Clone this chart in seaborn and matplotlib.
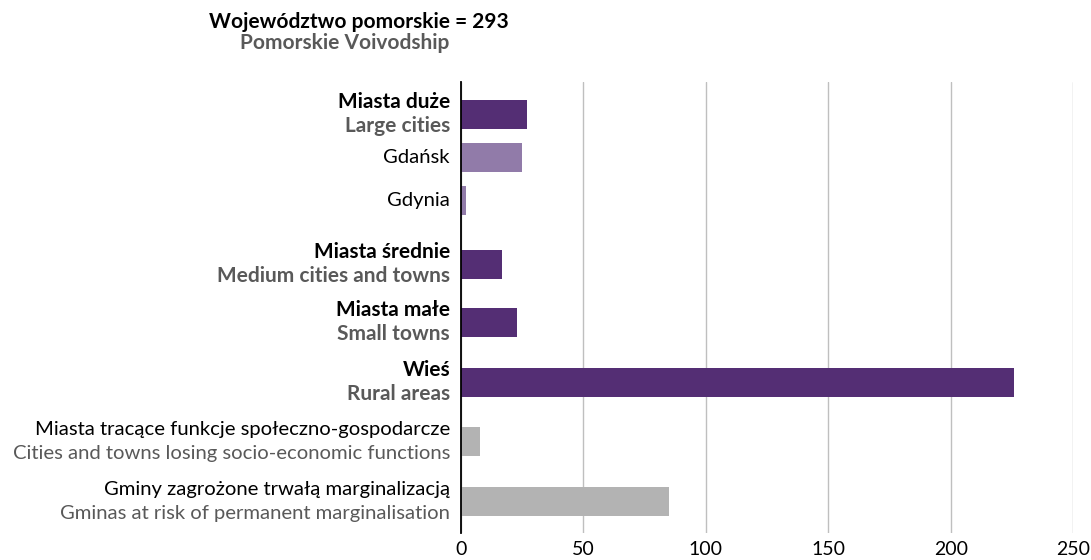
import matplotlib
matplotlib.use("Agg")
import matplotlib.pyplot as plt
import matplotlib.transforms as mtransforms
import pandas as pd
import seaborn as sns

# Data
values = [27, 25, 2, 17, 23, 226, 8, 85]
labels_pl = ["Miasta duże", "Gdańsk", "Gdynia", "Miasta średnie", "Miasta małe", "Wieś",
             "Miasta tracące funkcje społeczno-gospodarcze",
             "Gminy zagrożone trwałą marginalizacją"]
labels_en = ["Large cities", None, None, "Medium cities and towns", "Small towns", "Rural areas",
             "Cities and towns losing socio-economic functions",
             "Gminas at risk of permanent marginalisation"]
kinds = ["main", "sub", "sub", "main", "main", "main", "special", "special"]
total_pl = "Województwo pomorskie"
total_en = "Pomorskie Voivodship"
total_value = 293
x_ticks = [0, 50, 100, 150, 200, 250]

# Layout (pixel rows of the bar centres in the 1091x560 figure)
W, H = 1091, 560
slots = [114.5, 157.5, 200.5, 264.5, 322.5, 382.5, 441, 501]
colors = {"main": "#55237f", "sub": "#9174b0", "special": "#b3b3b3"}
GRAY = "#595959"
FONT = "Lato"

sns.set_theme(style="white")
plt.rcParams["font.family"] = [FONT, "DejaVu Sans"]

df = pd.DataFrame({"value": values, "slot": slots, "kind": kinds,
                   "name": labels_pl})

fig = plt.figure(figsize=(W / 100, H / 100), dpi=100)
ax = fig.add_axes([460.7 / W, 1 - 533 / H, (1073.3 - 460.7) / W, (533 - 82) / H])

sns.barplot(data=df, x="value", y="slot", hue="name", orient="h", native_scale=True,
            palette=[colors[k] for k in kinds], width=29 / 43, legend=False,
            linewidth=0, ax=ax)

ax.set_xlim(0, 250)
ax.set_ylim(533, 82)
ax.set_xticks(x_ticks)
ax.set_xticklabels([str(t) for t in x_ticks], fontsize=14, color="black")
ax.set_yticks([])
ax.set_xlabel("")
ax.set_ylabel("")
ax.tick_params(axis="x", length=0, pad=6)
ax.grid(axis="x", color="#bfbfbf", linewidth=1)
ax.set_axisbelow(True)
for side in ["top", "right", "bottom"]:
    ax.spines[side].set_visible(False)
ax.spines["left"].set_color("black")
ax.spines["left"].set_linewidth(1.3)
ax.spines["left"].set_zorder(5)

trans = mtransforms.blended_transform_factory(fig.transFigure, ax.transData)
xr = 450 / W
fs_reg = 14.6
fs_bold = 15.0
for pl, en, kind, y in zip(labels_pl, labels_en, kinds, slots):
    weight = "bold" if kind == "main" else "normal"
    fs = fs_bold if kind == "main" else fs_reg
    if en is None:
        ax.text(xr, y, pl, transform=trans, ha="right", va="center",
                fontsize=fs, color="black", fontweight=weight)
    else:
        ax.text(xr, y - 12, pl, transform=trans, ha="right", va="center",
                fontsize=fs, color="black", fontweight=weight)
        ax.text(xr, y + 12, en, transform=trans, ha="right", va="center",
                fontsize=fs, color=GRAY, fontweight=weight)

fig.text(209 / W, 1 - 22 / H, f"{total_pl} = {total_value}", ha="left", va="center",
         fontsize=fs_bold, fontweight="bold", color="black")
fig.text(449 / W, 1 - 43 / H, total_en, ha="right", va="center", fontsize=fs_bold,
         fontweight="bold", color=GRAY)

fig.savefig("out.png", dpi=100)
